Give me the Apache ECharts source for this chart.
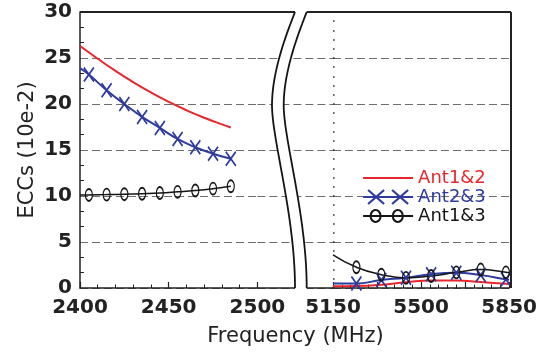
<!DOCTYPE html>
<html><head><meta charset="utf-8">
<script src="https://cdn.jsdelivr.net/npm/echarts@6/dist/echarts.min.js"></script>
<style>html,body{margin:0;padding:0;background:#fff}#c{width:540px;height:354px}</style>
</head><body><div id="c"></div>
<script>
// ---- data ----
const seriesNames = ['Ant1&2', 'Ant2&3', 'Ant1&3'];
const lowTickLabels = [2400, 2450, 2500];
const highTickLabels = [5150, 5500, 5850];
const yTickLabels = [0, 5, 10, 15, 20, 25, 30];

const lowFreqRed = [2400, 2410, 2420, 2430, 2440, 2450, 2460, 2470, 2480, 2485];
const lowRed =     [26.3, 24.92, 23.6, 22.38, 21.26, 20.24, 19.32, 18.5, 17.78, 17.45];

const lowFreq =  [2400, 2405, 2415, 2425, 2435, 2445, 2455, 2465, 2475, 2485];
const lowBlue =  [23.9, 23.2, 21.5, 20.0, 18.6, 17.4, 16.2, 15.3, 14.6, 14.05];
const lowBlack = [10.1, 10.12, 10.15, 10.2, 10.25, 10.32, 10.45, 10.6, 10.8, 11.05];

const highFreq =  [5150, 5243, 5342, 5440, 5540, 5640, 5737, 5837, 5850];
const highRed =   [0.2, 0.22, 0.35, 0.62, 0.82, 0.82, 0.65, 0.45, 0.42];
const highBlue =  [0.5, 0.5, 0.87, 1.12, 1.5, 1.65, 1.4, 0.95, 0.9];
const highBlack = [3.6, 2.25, 1.45, 1.1, 1.3, 1.7, 2.0, 1.7, 1.65];

const noMarkerFreqs = [2400, 5150, 5850];

// ---- style / layout ----
const RED = '#e8262b', BLUE = '#2d3a9e', BLACK = '#151515', AX = '#222';
const TOP = 12, BOT = 288, W = 540, H = 354;
const L0 = 80, L1 = 257.4;      // left panel (2400..2500)
const R0 = 333, R1 = 511;       // right panel (5150..5850)
const BRK1 = 295, BRK2 = 306.7; // break curves (bottom x)
const tickFont = { fontSize: 20, fontWeight: 'bold', fontFamily: '"DejaVu Sans", sans-serif', color: AX };
const nameFont = '21px "DejaVu Sans", sans-serif';

function pts(xs, ys) {
  return xs.map((x, i) => noMarkerFreqs.indexOf(x) >= 0 ? { value: [x, ys[i]], symbol: 'none' } : [x, ys[i]]);
}
const xSym = 'path://M0,0L10,14M10,0L0,14';
const dashGrid = { show: true, lineStyle: { color: '#6e6e6e', width: 1, type: [8, 4] } };

function bez(p0, p1, p2, p3, n) {
  const out = [];
  for (let i = 0; i <= n; i++) {
    const t = i / n, u = 1 - t;
    out.push([u*u*u*p0[0] + 3*u*u*t*p1[0] + 3*u*t*t*p2[0] + t*t*t*p3[0],
              u*u*u*p0[1] + 3*u*u*t*p1[1] + 3*u*t*t*p2[1] + t*t*t*p3[1]]);
  }
  return out;
}
function breakCurve(a) {
  const c1 = bez([a, TOP], [a - 7, 30], [a - 23, 70], [a - 23, 105], 30);
  const c2 = bez([a - 23, 105], [a - 23, 140], [a, 215], [a, BOT], 40);
  return c1.concat(c2.slice(1));
}
const curveA = breakCurve(BRK1), curveB = breakCurve(BRK2);
const band = [[BRK1, TOP - 3]].concat(curveA, [[BRK1, BOT + 3], [BRK2, BOT + 3]], curveB.slice().reverse(), [[BRK2, TOP - 3]]);

const chart = echarts.init(document.getElementById('c'));
const yBase = { type: 'value', min: yTickLabels[0], max: yTickLabels[yTickLabels.length - 1], interval: yTickLabels[1] - yTickLabels[0] };

chart.setOption({
  animation: false,
  backgroundColor: '#fff',
  grid: [
    { left: L0, right: W - L1, top: TOP, bottom: H - BOT },
    { left: L1, right: W - R0, top: TOP, bottom: H - BOT },
    { left: R0, right: W - R1, top: TOP, bottom: H - BOT }
  ],
  xAxis: [
    { gridIndex: 0, type: 'value', min: lowTickLabels[0], max: lowTickLabels[lowTickLabels.length - 1], interval: 50,
      axisLine: { lineStyle: { color: AX, width: 1.5 } },
      axisTick: { inside: true, length: 6, lineStyle: { color: AX, width: 1.2 } },
      minorTick: { show: true, splitNumber: 5, length: 3.5, lineStyle: { color: AX, width: 1 } },
      axisLabel: Object.assign({ margin: 10, formatter: v => String(v) }, tickFont),
      splitLine: { show: false } },
    { gridIndex: 1, type: 'value', min: 0, max: 1,
      axisLine: { lineStyle: { color: AX, width: 1.5 } }, axisTick: { show: false }, axisLabel: { show: false }, splitLine: { show: false } },
    { gridIndex: 2, type: 'value', min: highTickLabels[0], max: highTickLabels[highTickLabels.length - 1], interval: 175,
      axisLine: { lineStyle: { color: AX, width: 1.5 } },
      axisTick: { inside: true, length: 6, lineStyle: { color: AX, width: 1.2 } },
      minorTick: { show: true, splitNumber: 5, length: 3.5, lineStyle: { color: AX, width: 1 } },
      axisLabel: Object.assign({ margin: 10, formatter: v => highTickLabels.indexOf(v) >= 0 ? String(v) : '' }, tickFont),
      splitLine: { show: false } }
  ],
  yAxis: [
    Object.assign({ gridIndex: 0, name: 'ECCs (10e-2)', nameLocation: 'middle', nameGap: 42,
      nameTextStyle: { fontSize: 21, fontFamily: '"DejaVu Sans", sans-serif', color: AX },
      axisLine: { show: true, lineStyle: { color: AX, width: 1.5 } },
      axisTick: { show: false, inside: true },
      minorTick: { show: true, splitNumber: 3, length: 4, lineStyle: { color: AX, width: 1 } },
      axisLabel: Object.assign({ margin: 8 }, tickFont),
      splitLine: dashGrid }, yBase),
    Object.assign({ gridIndex: 1, axisLine: { show: false }, axisTick: { show: false }, axisLabel: { show: false }, splitLine: dashGrid }, yBase),
    Object.assign({ gridIndex: 2, axisLine: { show: false },
      axisTick: { show: true, inside: true, length: 1.6, lineStyle: { color: '#333', width: 1.6 } },
      minorTick: { show: true, splitNumber: 5, length: 1.6, lineStyle: { color: '#333', width: 1.6 } },
      axisLabel: { show: false }, splitLine: dashGrid }, yBase)
  ],
  legend: {
    orient: 'vertical', left: 357, top: 164, padding: 5, itemWidth: 50, itemHeight: 14, itemGap: 1,
    textStyle: { fontSize: 18, lineHeight: 18, fontFamily: '"DejaVu Sans", sans-serif' },
    data: [
      { name: seriesNames[0], icon: 'path://M0,0M0,7L50,7M50,14',
        itemStyle: { color: 'rgba(0,0,0,0)', borderColor: RED, borderWidth: 2.2 }, textStyle: { color: RED } },
      { name: seriesNames[1], icon: 'path://M0,7L50,7M5,0L21,14M21,0L5,14M29,0L45,14M45,0L29,14M0,0M50,14',
        itemStyle: { color: 'rgba(0,0,0,0)', borderColor: BLUE, borderWidth: 2.2 }, textStyle: { color: BLUE } },
      { name: seriesNames[2], icon: 'path://M0,7L50,7M17.5,7A5,6 0 1 1 7.5,7A5,6 0 1 1 17.5,7M39.7,7A5,6 0 1 1 29.7,7A5,6 0 1 1 39.7,7M0,0M50,14',
        itemStyle: { color: 'rgba(0,0,0,0)', borderColor: BLACK, borderWidth: 2 }, textStyle: { color: BLACK } }
    ]
  },
  series: [
    { name: seriesNames[0], type: 'line', xAxisIndex: 0, yAxisIndex: 0, smooth: true, symbol: 'none',
      data: pts(lowFreqRed, lowRed), lineStyle: { color: RED, width: 2 }, itemStyle: { color: RED } },
    { name: seriesNames[0], type: 'line', xAxisIndex: 2, yAxisIndex: 2, smooth: true, symbol: 'none',
      data: pts(highFreq, highRed), lineStyle: { color: RED, width: 2 }, itemStyle: { color: RED } },
    { name: seriesNames[1], type: 'line', xAxisIndex: 0, yAxisIndex: 0, smooth: true, symbol: xSym, symbolSize: [10, 14],
      data: pts(lowFreq, lowBlue), lineStyle: { color: BLUE, width: 2 }, itemStyle: { color: BLUE, borderColor: BLUE, borderWidth: 1.8 } },
    { name: seriesNames[1], type: 'line', xAxisIndex: 2, yAxisIndex: 2, smooth: true, symbol: xSym, symbolSize: [10, 14],
      data: pts(highFreq, highBlue), lineStyle: { color: BLUE, width: 2 }, itemStyle: { color: BLUE, borderColor: BLUE, borderWidth: 1.8 } },
    { name: seriesNames[2], type: 'line', xAxisIndex: 0, yAxisIndex: 0, smooth: true, symbol: 'circle', symbolSize: [7, 12],
      data: pts(lowFreq, lowBlack), lineStyle: { color: BLACK, width: 1.5 }, itemStyle: { color: 'rgba(0,0,0,0)', borderColor: BLACK, borderWidth: 1.5 } },
    { name: seriesNames[2], type: 'line', xAxisIndex: 2, yAxisIndex: 2, smooth: true, symbol: 'circle', symbolSize: [7, 12],
      data: pts(highFreq, highBlack), lineStyle: { color: BLACK, width: 1.5 }, itemStyle: { color: 'rgba(0,0,0,0)', borderColor: BLACK, borderWidth: 1.5 } }
  ],
  graphic: [
    { type: 'line', z: 40, shape: { x1: L0, y1: TOP, x2: R1, y2: TOP }, style: { stroke: AX, lineWidth: 2 } },
    { type: 'line', z: 40, shape: { x1: R1, y1: TOP, x2: R1, y2: BOT }, style: { stroke: AX, lineWidth: 2 } },
    { type: 'polygon', z: 50, shape: { points: band }, style: { fill: '#fff', stroke: null } },
    { type: 'polyline', z: 51, shape: { points: curveA }, style: { fill: null, stroke: BLACK, lineWidth: 1.8 } },
    { type: 'polyline', z: 51, shape: { points: curveB }, style: { fill: null, stroke: BLACK, lineWidth: 1.8 } },
    { type: 'text', z: 52, x: (L0 + R1) / 2 + 0, y: 337,
      style: { text: 'Frequency (MHz)', font: nameFont, fill: AX, align: 'center', verticalAlign: 'middle', textAlign: 'center', textVerticalAlign: 'middle' } }
  ]
});
</script></body></html>
